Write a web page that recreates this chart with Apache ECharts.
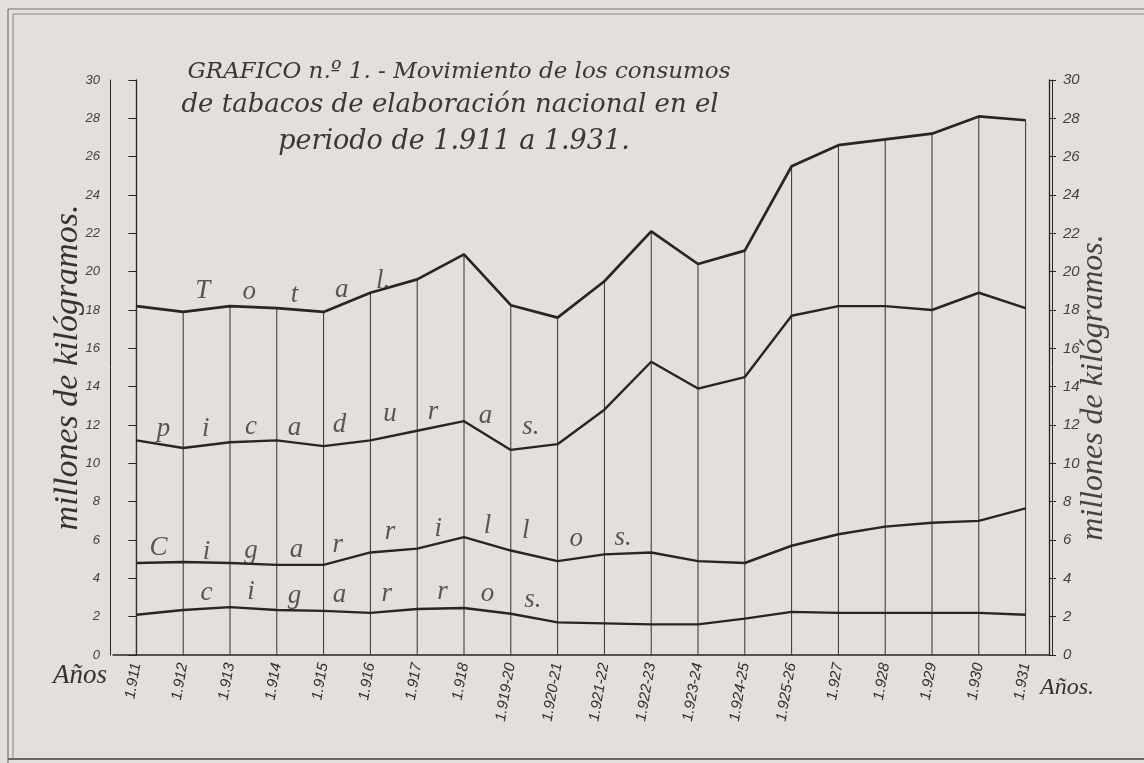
<!DOCTYPE html>
<html>
<head>
<meta charset="utf-8">
<script src="https://cdn.jsdelivr.net/npm/echarts@6/dist/echarts.min.js"></script>
<style>
html,body{margin:0;padding:0;background:#e2dfdc;}
#c{width:1144px;height:763px;}
</style>
</head>
<body>
<div id="c"></div>
<script>
// ---- data ----
const categories = ['1.911','1.912','1.913','1.914','1.915','1.916','1.917','1.918','1.919-20','1.920-21','1.921-22','1.922-23','1.923-24','1.924-25','1.925-26','1.927','1.928','1.929','1.930','1.931'];
const total       = [18.2, 17.9, 18.2, 18.1, 17.9, 18.9, 19.6, 20.9, 18.25, 17.6, 19.5, 22.1, 20.4, 21.1, 25.5, 26.6, 26.9, 27.2, 28.1, 27.9];
const picaduras   = [11.2, 10.8, 11.1, 11.2, 10.9, 11.2, 11.7, 12.2, 10.7, 11.0, 12.8, 15.3, 13.9, 14.5, 17.7, 18.2, 18.2, 18.0, 18.9, 18.1];
const cigarrillos = [4.8, 4.85, 4.8, 4.7, 4.7, 5.35, 5.55, 6.15, 5.45, 4.9, 5.25, 5.35, 4.9, 4.8, 5.7, 6.3, 6.7, 6.9, 7.0, 7.65];
const cigarros    = [2.1, 2.35, 2.5, 2.35, 2.3, 2.2, 2.4, 2.45, 2.15, 1.7, 1.65, 1.6, 1.6, 1.9, 2.25, 2.2, 2.2, 2.2, 2.2, 2.1];

const yTicks = [0, 30, 2]; // min, max, interval
const titleLines = ['GRAFICO n.º 1. - Movimiento de los consumos', 'de tabacos de elaboración nacional en el', 'periodo de 1.911 a 1.931.'];
const axisName = 'millones de kilógramos.';
const yearsWord = 'Años';

// spaced lettering written along each curve (letter, category position, value)
const totalLetters = ['T','o','t','a','l.'];
const totalLetterX = [1.42, 2.41, 3.38, 4.39, 5.27];
const totalLetterY = [19.0, 18.95, 18.8, 19.05, 19.5];
const picLetters = ['p','i','c','a','d','u','r','a','s.'];
const picLetterX = [0.58, 1.48, 2.45, 3.38, 4.34, 5.42, 6.34, 7.46, 8.43];
const picLetterY = [11.8, 11.8, 11.9, 11.85, 12.0, 12.6, 12.7, 12.5, 11.9];
const cillLetters = ['C','i','g','a','r','r','i','l','l','o','s.'];
const cillLetterX = [0.47, 1.5, 2.45, 3.42, 4.3, 5.42, 6.45, 7.5, 8.32, 9.4, 10.4];
const cillLetterY = [5.6, 5.4, 5.45, 5.5, 5.75, 6.4, 6.6, 6.75, 6.45, 6.05, 6.1];
const cigLetters = ['c','i','g','a','r','r','o','s.'];
const cigLetterX = [1.5, 2.45, 3.38, 4.34, 5.35, 6.54, 7.5, 8.47];
const cigLetterY = [3.25, 3.3, 3.1, 3.15, 3.2, 3.3, 3.2, 2.9];

// ---- chart ----
const ink = '#262626';
const serifIt = {fontFamily: 'Liberation Serif', fontStyle: 'italic'};
const wideIt = {fontFamily: 'DejaVu Serif', fontStyle: 'italic'};
const sansIt = {fontFamily: 'Liberation Sans', fontStyle: 'italic'};

function letterSeries(letters, xs, ys) {
  return {
    type: 'scatter', xAxisIndex: 1, yAxisIndex: 0, symbolSize: 0, silent: true, z: 5,
    data: letters.map((l, i) => ({name: l, value: [xs[i], ys[i]]})),
    label: {show: true, position: 'inside', formatter: p => p.name,
      fontFamily: 'Liberation Serif', fontStyle: 'italic', fontSize: 27, color: '#333'}
  };
}
function lineSeries(name, data, w) {
  return {name, type: 'line', data, symbol: 'none', smooth: false, z: 4,
    lineStyle: {color: ink, width: w}};
}

const yBase = {type: 'value', min: yTicks[0], max: yTicks[1], interval: yTicks[2], splitLine: {show: false}};

const option = {
  backgroundColor: '#e2dfdc',
  animation: false,
  grid: {left: 113, right: 95, top: 80, bottom: 108},
  xAxis: [
    {type: 'category', data: categories, boundaryGap: true,
     axisLine: {show: true, lineStyle: {color: ink, width: 1.5}},
     axisTick: {show: false},
     axisLabel: {interval: 0, rotate: 80, margin: 8, fontSize: 15, color: '#2e2e2e', ...sansIt}},
    {type: 'value', min: -0.5, max: categories.length - 0.5, show: false}
  ],
  yAxis: [
    Object.assign({}, yBase, {position: 'left',
      name: axisName, nameLocation: 'middle', nameRotate: 90, nameGap: 28, nameMoveOverlap: false,
      nameTextStyle: {fontSize: 34, color: '#333', ...serifIt},
      axisLine: {show: true, lineStyle: {color: ink, width: 1.3}},
      axisTick: {show: true, length: 8, lineStyle: {color: ink}},
      axisLabel: {margin: 13, fontSize: 13, color: '#444', ...sansIt}}),
    Object.assign({}, yBase, {position: 'right',
      name: axisName, nameLocation: 'middle', nameRotate: 90, nameGap: 29, nameMoveOverlap: false,
      nameTextStyle: {fontSize: 32, color: '#444', padding: [0, 40, 0, 0], ...serifIt},
      axisLine: {show: true, lineStyle: {color: ink, width: 1.3}},
      axisTick: {show: true, length: 7, lineStyle: {color: ink}},
      axisLabel: {margin: 14, fontSize: 15, color: '#444', ...sansIt}}),
    Object.assign({}, yBase, {position: 'left', offset: 3,
      axisLine: {show: true, lineStyle: {color: ink, width: 1}}, axisTick: {show: false}, axisLabel: {show: false}}),
    Object.assign({}, yBase, {position: 'right', offset: 3,
      axisLine: {show: true, lineStyle: {color: ink, width: 1}}, axisTick: {show: false}, axisLabel: {show: false}})
  ],
  series: [
    {type: 'bar', data: total, barWidth: 1, z: 2, silent: true, itemStyle: {color: '#333'}},
    lineSeries('Total', total, 2.7),
    lineSeries('Picaduras', picaduras, 2.4),
    lineSeries('Cigarrillos', cigarrillos, 2.4),
    lineSeries('Cigarros', cigarros, 2.4),
    letterSeries(totalLetters, totalLetterX, totalLetterY),
    letterSeries(picLetters, picLetterX, picLetterY),
    letterSeries(cillLetters, cillLetterX, cillLetterY),
    letterSeries(cigLetters, cigLetterX, cigLetterY)
  ],
  graphic: [
    {type: 'line', shape: {x1: 8, y1: 9, x2: 1144, y2: 9}, style: {stroke: '#777', lineWidth: 1.2}},
    {type: 'line', shape: {x1: 13, y1: 14, x2: 1144, y2: 14}, style: {stroke: '#888', lineWidth: 1}},
    {type: 'line', shape: {x1: 8, y1: 9, x2: 8, y2: 763}, style: {stroke: '#777', lineWidth: 1.2}},
    {type: 'line', shape: {x1: 13, y1: 14, x2: 13, y2: 758}, style: {stroke: '#888', lineWidth: 1}},
    {type: 'line', shape: {x1: 8, y1: 759, x2: 1144, y2: 759}, style: {stroke: '#666', lineWidth: 2}},
    {type: 'text', x: 459, y: 72, style: {text: titleLines[0], textAlign: 'center', textVerticalAlign: 'middle', fill: '#383838', fontSize: 23, ...wideIt}},
    {type: 'text', x: 450, y: 105, style: {text: titleLines[1], textAlign: 'center', textVerticalAlign: 'middle', fill: '#383838', fontSize: 26, ...wideIt}},
    {type: 'text', x: 454, y: 142, style: {text: titleLines[2], textAlign: 'center', textVerticalAlign: 'middle', fill: '#383838', fontSize: 27, ...wideIt}},
    {type: 'text', x: 80, y: 676, style: {text: yearsWord, textAlign: 'center', textVerticalAlign: 'middle', fill: '#333', fontSize: 27, ...serifIt}},
    {type: 'text', x: 1067, y: 688, style: {text: yearsWord + '.', textAlign: 'center', textVerticalAlign: 'middle', fill: '#333', fontSize: 24, ...serifIt}}
  ]
};

const chart = echarts.init(document.getElementById('c'), null, {renderer: 'canvas'});
chart.setOption(option);
</script>
</body>
</html>
